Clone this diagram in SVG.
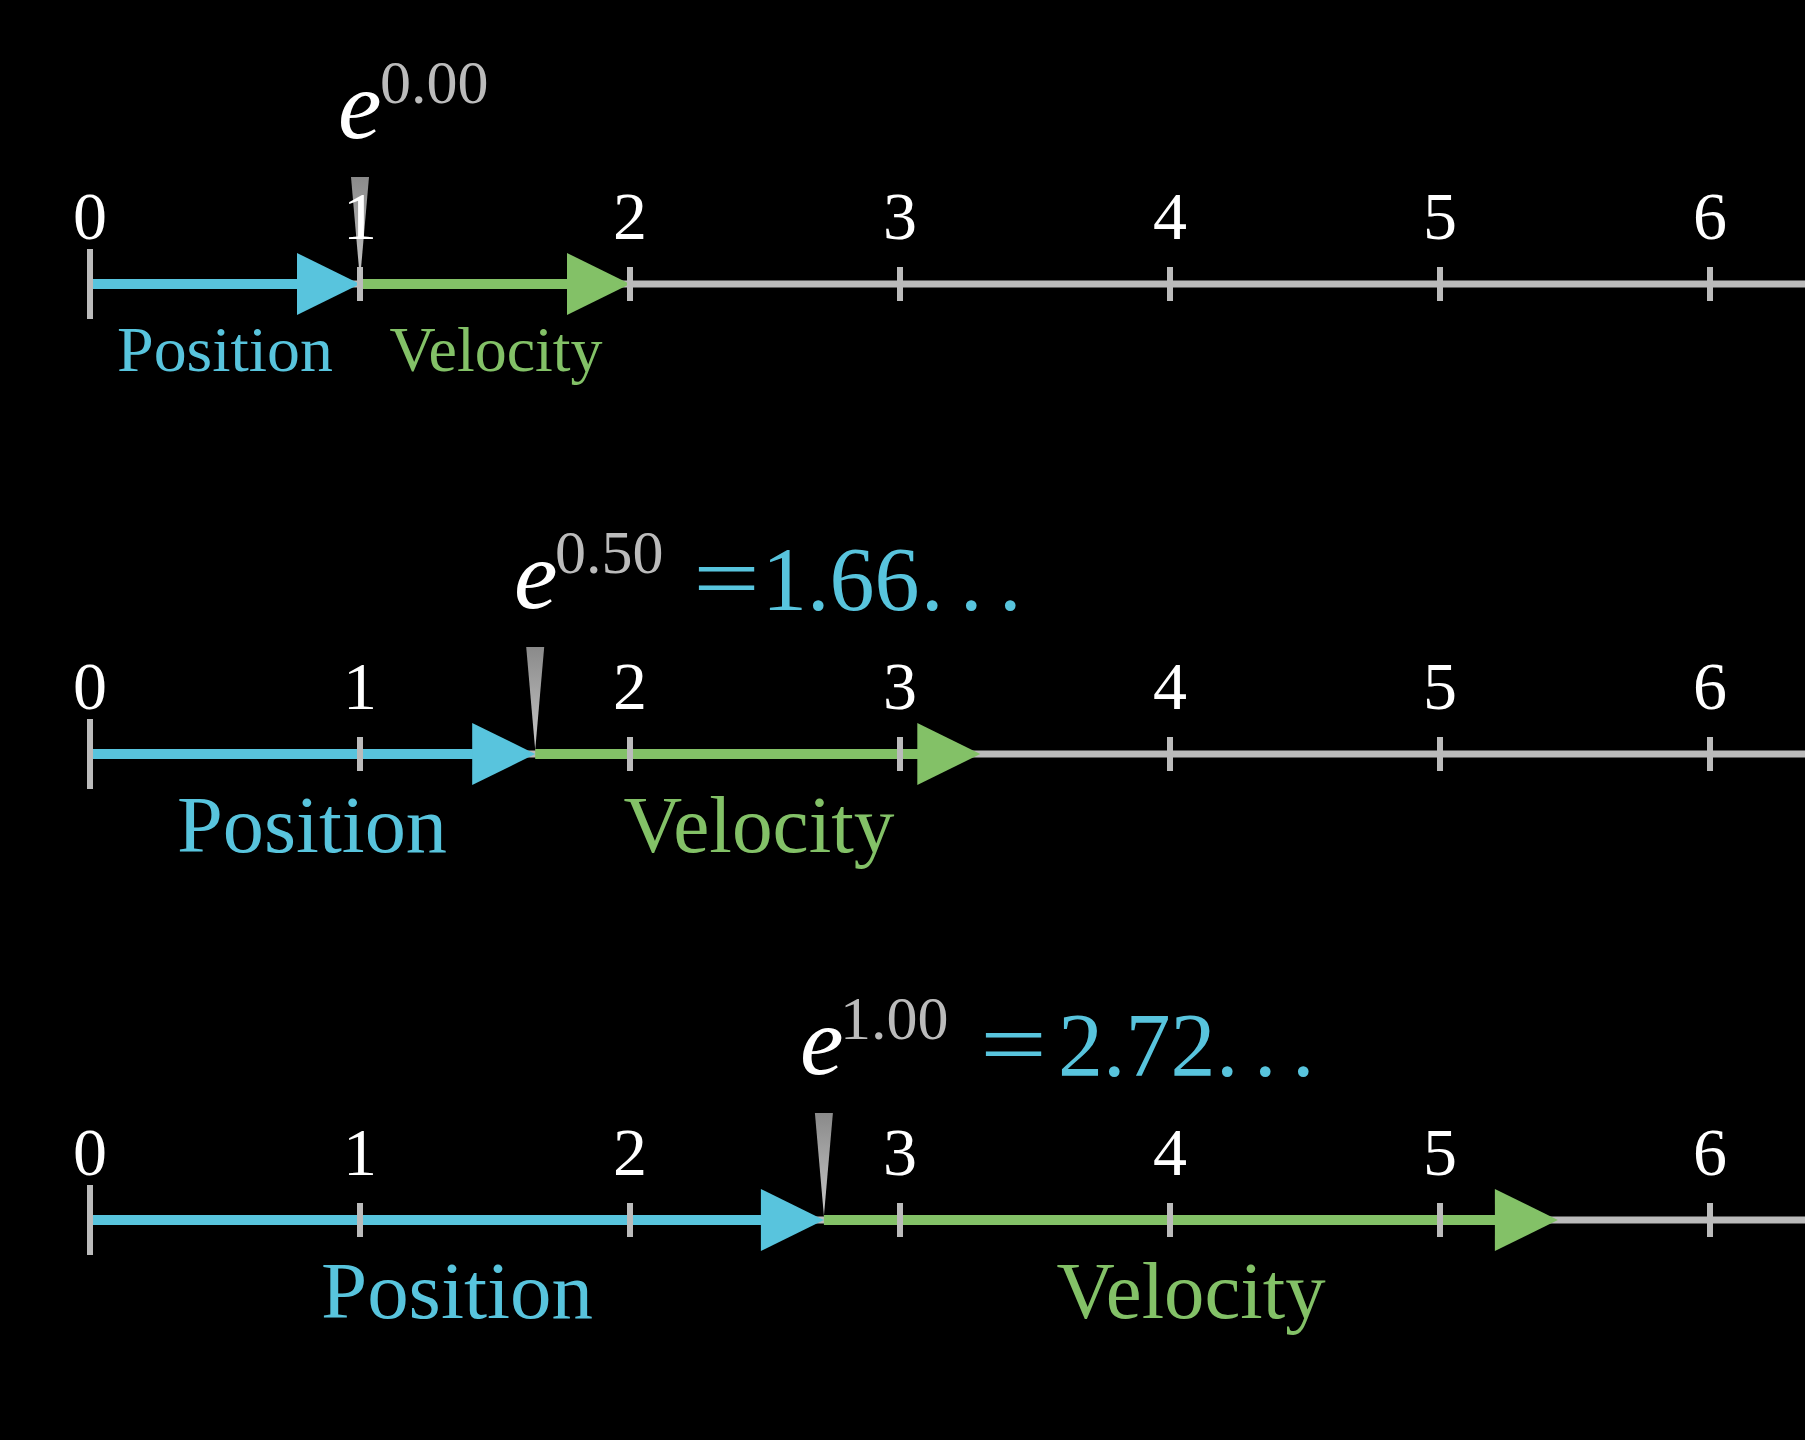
<svg xmlns="http://www.w3.org/2000/svg" width="1805" height="1440" viewBox="0 0 1805 1440">
<defs>
<style>
.axis{stroke:#BBBBBB;stroke-width:7;fill:none}
.tick{stroke:#BBBBBB;stroke-width:6}
.num{font-family:"Liberation Serif","DejaVu Serif",serif;font-size:68px;fill:#FFFFFF;text-anchor:middle}
.blue{stroke:#58C4DD;stroke-width:10;fill:none}
.green{stroke:#83C167;stroke-width:10;fill:none}
.bhead{fill:#58C4DD}
.ghead{fill:#83C167}
.ptr{fill:url(#pg)}
.expr{font-family:"Liberation Serif","DejaVu Serif",serif}
.e{font-style:italic;font-size:98px;fill:#FFFFFF}
.sup{font-size:62px;fill:#BBBBBB}
.eq{font-family:"Liberation Serif","DejaVu Serif",serif;font-size:92px;fill:#58C4DD}
.val{font-family:"Liberation Serif","DejaVu Serif",serif;font-size:90px;fill:#58C4DD}
.lbl1{font-family:"Liberation Serif","DejaVu Serif",serif;font-size:64px;text-anchor:middle}
.lbl2{font-family:"Liberation Serif","DejaVu Serif",serif;font-size:80px;text-anchor:middle}
.pos{fill:#58C4DD}
.vel{fill:#83C167}
</style>
<linearGradient id="pg" x1="0" y1="0" x2="0" y2="1">
<stop offset="0" stop-color="#8A8A8A"/>
<stop offset="1" stop-color="#C8C8C8"/>
</linearGradient>
</defs>
<rect width="1805" height="1440" fill="#000000"/>

<!-- Row 1 : t = 0.00 -->
<g id="row1">
<g id="row1-axis">
<line class="axis" x1="90" y1="284" x2="1805" y2="284"/>
</g>
<g id="row1-connectors">
<line class="blue" x1="90" y1="284" x2="298" y2="284"/>
<line class="green" x1="360" y1="284" x2="568" y2="284"/>
<polygon class="bhead" points="297,253 360,284 297,315"/>
<polygon class="ghead" points="567,253 630,284 567,315"/>
</g>
<g id="row1-ticks">
<line class="tick" x1="90" y1="249" x2="90" y2="319"/>
<line class="tick" x1="360" y1="267" x2="360" y2="301"/>
<line class="tick" x1="630" y1="267" x2="630" y2="301"/>
<line class="tick" x1="900" y1="267" x2="900" y2="301"/>
<line class="tick" x1="1170" y1="267" x2="1170" y2="301"/>
<line class="tick" x1="1440" y1="267" x2="1440" y2="301"/>
<line class="tick" x1="1710" y1="267" x2="1710" y2="301"/>
</g>
<g id="row1-pointer">
<polygon class="ptr" points="351,177 369,177 360,280"/>
</g>
<g id="row1-numbers">
<text class="num" x="90" y="239">0</text>
<text class="num" x="360" y="239">1</text>
<text class="num" x="630" y="239">2</text>
<text class="num" x="900" y="239">3</text>
<text class="num" x="1170" y="239">4</text>
<text class="num" x="1440" y="239">5</text>
<text class="num" x="1710" y="239">6</text>
</g>
<g id="row1-expr">
<text class="expr"><tspan class="e" x="338" y="138">e</tspan><tspan class="sup" x="380" y="103">0.00</tspan></text>
</g>
<g id="row1-labels">
<text class="lbl1 pos" x="225" y="371" textLength="216" lengthAdjust="spacingAndGlyphs">Position</text>
<text class="lbl1 vel" x="496" y="371" textLength="213" lengthAdjust="spacingAndGlyphs">Velocity</text>
</g>
</g>

<!-- Row 2 : t = 0.50 -->
<g id="row2">
<g id="row2-axis">
<line class="axis" x1="90" y1="754" x2="1805" y2="754"/>
</g>
<g id="row2-connectors">
<line class="blue" x1="90" y1="754" x2="473" y2="754"/>
<line class="green" x1="535.2" y1="754" x2="918" y2="754"/>
<polygon class="bhead" points="472.2,723 535.2,754 472.2,785"/>
<polygon class="ghead" points="917.3,723 980.3,754 917.3,785"/>
</g>
<g id="row2-ticks">
<line class="tick" x1="90" y1="719" x2="90" y2="789"/>
<line class="tick" x1="360" y1="737" x2="360" y2="771"/>
<line class="tick" x1="630" y1="737" x2="630" y2="771"/>
<line class="tick" x1="900" y1="737" x2="900" y2="771"/>
<line class="tick" x1="1170" y1="737" x2="1170" y2="771"/>
<line class="tick" x1="1440" y1="737" x2="1440" y2="771"/>
<line class="tick" x1="1710" y1="737" x2="1710" y2="771"/>
</g>
<g id="row2-pointer">
<polygon class="ptr" points="526.2,647 544.2,647 535.2,750"/>
</g>
<g id="row2-numbers">
<text class="num" x="90" y="709">0</text>
<text class="num" x="360" y="709">1</text>
<text class="num" x="630" y="709">2</text>
<text class="num" x="900" y="709">3</text>
<text class="num" x="1170" y="709">4</text>
<text class="num" x="1440" y="709">5</text>
<text class="num" x="1710" y="709">6</text>
</g>
<g id="row2-expr">
<text class="expr"><tspan class="e" x="514" y="608">e</tspan><tspan class="sup" x="555" y="573">0.50</tspan></text>
<text class="eq" x="693" y="609" textLength="67" lengthAdjust="spacingAndGlyphs">=</text>
<text class="val" y="610"><tspan x="762">1.66</tspan><tspan x="921">.</tspan><tspan x="960">.</tspan><tspan x="999">.</tspan></text>
</g>
<g id="row2-labels">
<text class="lbl2 pos" x="312" y="852" textLength="270" lengthAdjust="spacingAndGlyphs">Position</text>
<text class="lbl2 vel" x="759" y="852" textLength="271" lengthAdjust="spacingAndGlyphs">Velocity</text>
</g>
</g>

<!-- Row 3 : t = 1.00 -->
<g id="row3">
<g id="row3-axis">
<line class="axis" x1="90" y1="1220" x2="1805" y2="1220"/>
</g>
<g id="row3-connectors">
<line class="blue" x1="90" y1="1220" x2="762" y2="1220"/>
<line class="green" x1="823.9" y1="1220" x2="1496" y2="1220"/>
<polygon class="bhead" points="760.9,1189 823.9,1220 760.9,1251"/>
<polygon class="ghead" points="1494.9,1189 1557.9,1220 1494.9,1251"/>
</g>
<g id="row3-ticks">
<line class="tick" x1="90" y1="1185" x2="90" y2="1255"/>
<line class="tick" x1="360" y1="1203" x2="360" y2="1237"/>
<line class="tick" x1="630" y1="1203" x2="630" y2="1237"/>
<line class="tick" x1="900" y1="1203" x2="900" y2="1237"/>
<line class="tick" x1="1170" y1="1203" x2="1170" y2="1237"/>
<line class="tick" x1="1440" y1="1203" x2="1440" y2="1237"/>
<line class="tick" x1="1710" y1="1203" x2="1710" y2="1237"/>
</g>
<g id="row3-pointer">
<polygon class="ptr" points="814.9,1113 832.9,1113 823.9,1216"/>
</g>
<g id="row3-numbers">
<text class="num" x="90" y="1175">0</text>
<text class="num" x="360" y="1175">1</text>
<text class="num" x="630" y="1175">2</text>
<text class="num" x="900" y="1175">3</text>
<text class="num" x="1170" y="1175">4</text>
<text class="num" x="1440" y="1175">5</text>
<text class="num" x="1710" y="1175">6</text>
</g>
<g id="row3-expr">
<text class="expr"><tspan class="e" x="800" y="1074" font-size="96">e</tspan><tspan class="sup" x="840" y="1039">1.00</tspan></text>
<text class="eq" x="980" y="1075" textLength="67" lengthAdjust="spacingAndGlyphs">=</text>
<text class="val" y="1076"><tspan x="1058">2.72</tspan><tspan x="1216">.</tspan><tspan x="1254">.</tspan><tspan x="1292">.</tspan></text>
</g>
<g id="row3-labels">
<text class="lbl2 pos" x="457" y="1318" textLength="272" lengthAdjust="spacingAndGlyphs">Position</text>
<text class="lbl2 vel" x="1191" y="1318" textLength="269" lengthAdjust="spacingAndGlyphs">Velocity</text>
</g>
</g>
</svg>
